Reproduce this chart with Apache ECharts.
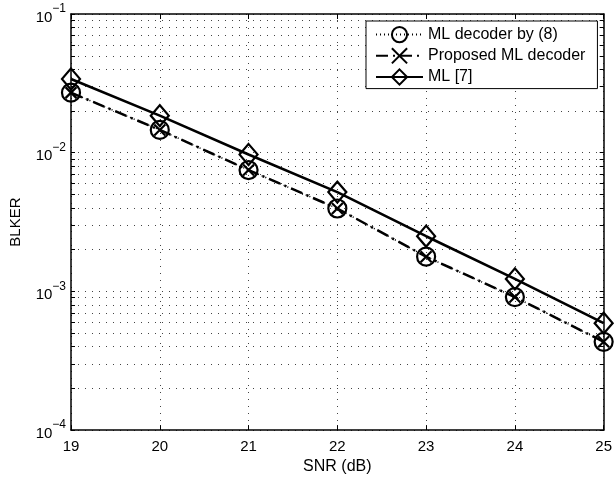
<!DOCTYPE html>
<html>
<head>
<meta charset="utf-8">
<script src="https://cdn.jsdelivr.net/npm/echarts@6/dist/echarts.min.js"></script>
<style>
html,body{margin:0;padding:0;background:#fff;}
#c{width:615px;height:480px;}
</style>
</head>
<body>
<div id="c"></div>
<script>
const snr = [19, 20, 21, 22, 23, 24, 25];
const mlDecoder8 = [0.0271, 0.0146, 0.0075, 0.00396, 0.00178, 0.00091, 0.000433];
const proposedML = [0.0271, 0.0146, 0.0075, 0.00396, 0.00178, 0.00091, 0.000433];
const ml7 = [0.0340, 0.0185, 0.0097, 0.0052, 0.0025, 0.00123, 0.00059];
const seriesNames = ['ML decoder by (8)', 'Proposed ML decoder', 'ML [7]'];
const yMajorTicks = [1e-4, 1e-3, 1e-2, 1e-1];
const yMin = 1e-4, yMax = 1e-1;
const xMin = 19, xMax = 25;

const FONT = '"Liberation Sans", Arial, Helvetica, sans-serif';
const yAllTicks = [];
for (let d = -4; d <= -2; d++) {
  for (let m = 1; m <= 9; m++) yAllTicks.push(+(m * Math.pow(10, d)).toPrecision(3));
}
yAllTicks.push(1e-1);
const gridDot = {color: '#444', width: 1, type: [1, 6]};

function pair(xs, ys) { return xs.map((x, i) => [x, ys[i]]); }

const chart = echarts.init(document.getElementById('c'), null, {renderer: 'canvas'});
chart.setOption({
  animation: false,
  backgroundColor: '#fff',
  textStyle: {fontFamily: FONT, color: '#000'},
  grid: {left: 68, right: 10, top: 14, bottom: 43, containLabel: false},
  xAxis: [{
    type: 'value', min: xMin, max: xMax, interval: 1, position: 'bottom',
    name: 'SNR (dB)', nameLocation: 'middle', nameGap: 27,
    nameTextStyle: {fontSize: 16, fontFamily: FONT, color: '#000'},
    axisLine: {show: true, onZero: false, lineStyle: {color: '#000', width: 1.5}},
    axisTick: {show: true, inside: true, length: 5, lineStyle: {color: '#000'}},
    axisLabel: {fontSize: 15, fontFamily: FONT, color: '#000', margin: 9},
    splitLine: {show: true, lineStyle: gridDot}
  }, {
    type: 'value', min: xMin, max: xMax, interval: 1, position: 'top',
    axisLine: {show: true, onZero: false, lineStyle: {color: '#000', width: 1.5}},
    axisTick: {show: true, inside: true, length: 5, lineStyle: {color: '#000'}},
    axisLabel: {show: false}, splitLine: {show: false}
  }],
  yAxis: [{
    type: 'log', logBase: 10, min: yMin, max: yMax, position: 'left',
    name: 'BLKER', nameLocation: 'middle', nameGap: 48, nameRotate: 90,
    nameTextStyle: {fontSize: 15, fontFamily: FONT, color: '#000'},
    axisLine: {show: true, onZero: false, lineStyle: {color: '#000', width: 1.5}},
    axisTick: {show: true, inside: true, length: 4, customValues: yAllTicks, lineStyle: {color: '#000'}},
    axisLabel: {
      margin: 5, fontFamily: FONT, color: '#000', customValues: yMajorTicks,
      formatter: function (v) {
        const e = Math.round(Math.log10(v));
        return '{b|10}{s|' + (e < 0 ? '\u2212' + (-e) : e) + '}';
      },
      rich: {
        b: {fontSize: 15, fontFamily: FONT, color: '#000', verticalAlign: 'bottom', lineHeight: 22},
        s: {fontSize: 12, fontFamily: FONT, color: '#000', verticalAlign: 'top', lineHeight: 22}
      }
    },
    splitLine: {show: true, lineStyle: gridDot}
  }, {
    type: 'log', logBase: 10, min: yMin, max: yMax, position: 'right',
    axisLine: {show: true, onZero: false, lineStyle: {color: '#000', width: 1.5}},
    axisTick: {show: true, inside: true, length: 4, customValues: yAllTicks, lineStyle: {color: '#000'}},
    axisLabel: {show: false}, splitLine: {show: false}
  }],
  legend: {
    orient: 'vertical', left: 366, top: 21,
    data: seriesNames,
    backgroundColor: '#fff', borderColor: '#000', borderWidth: 1,
    padding: [5, 12, 3, 9], itemGap: 4, itemWidth: 47, itemHeight: 19,
    textStyle: {fontSize: 16, fontFamily: FONT, color: '#000'}
  },
  series: [{
    name: seriesNames[0], type: 'line', data: pair(snr, mlDecoder8),
    symbol: 'circle', symbolSize: 18,
    itemStyle: {color: 'rgba(0,0,0,0)', borderColor: '#000', borderWidth: 2.2},
    lineStyle: {color: '#000', width: 1.5, type: [1, 3]},
    z: 3
  }, {
    name: seriesNames[1], type: 'line', data: pair(snr, proposedML),
    symbol: 'path://M0,0L10,10M10,0L0,10', symbolSize: 11,
    itemStyle: {color: 'rgba(0,0,0,0)', borderColor: '#000', borderWidth: 2.2},
    lineStyle: {color: '#000', width: 2.5, type: [12, 5, 2, 5]},
    z: 4
  }, {
    name: seriesNames[2], type: 'line', data: pair(snr, ml7),
    symbol: 'diamond', symbolSize: [18, 21],
    itemStyle: {color: 'rgba(0,0,0,0)', borderColor: '#000', borderWidth: 2.2},
    lineStyle: {color: '#000', width: 2.6, type: 'solid'},
    z: 5
  }]
});
</script>
</body>
</html>
